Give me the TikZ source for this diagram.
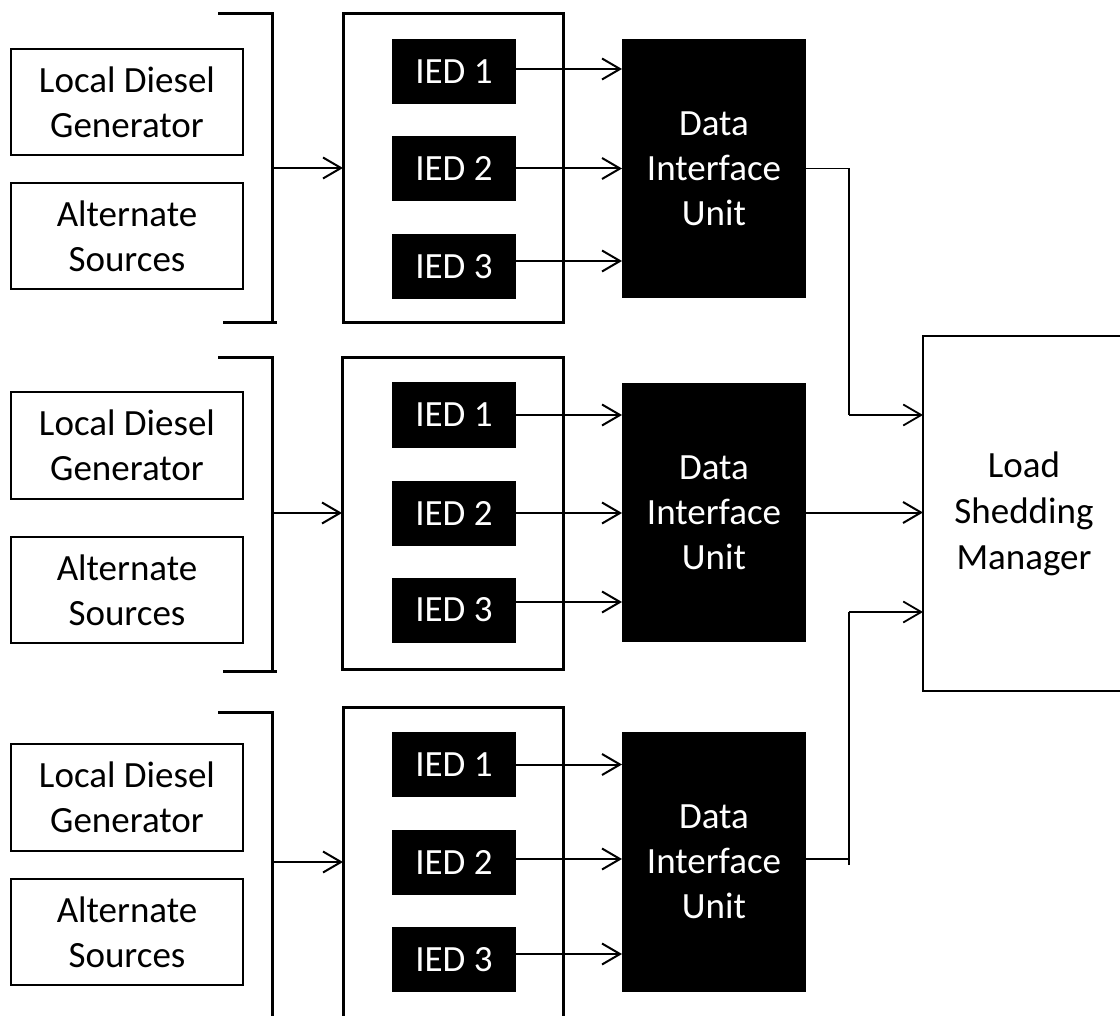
\documentclass[tikz,border=0pt]{standalone}
\usepackage{fontspec}
\setmainfont{Carlito}
\usetikzlibrary{arrows.meta}

\tikzset{
  lbl/.style={align=center, font=\fontsize{37}{45}\selectfont, inner sep=0pt, outer sep=0pt},
  srcbox/.style={lbl, draw, line width=2.3pt, minimum width=232pt, minimum height=106pt},
  iedbox/.style={lbl, fill=black, text=white, minimum width=124pt, minimum height=65pt},
  diubox/.style={lbl, fill=black, text=white, minimum width=184pt, minimum height=259pt},
  grpbox/.style={draw, line width=3pt, inner sep=0pt, outer sep=0pt},
  mgrbox/.style={lbl, draw, line width=2.3pt, minimum width=202pt, minimum height=355pt},
  brk/.style={line width=3pt},
  arr/.style={line width=2pt, -{Straight Barb[length=18pt,width=21pt]}},
  link/.style={line width=1.8pt},
}

\begin{document}
\begin{tikzpicture}[x=1pt,y=-1pt]
\useasboundingbox (0,0) rectangle (1120,1016);
\clip (0,0) rectangle (1120,1016);

% ---------- load shedding manager ----------
\node[mgrbox, font=\fontsize{37}{46}\selectfont] (lsm) at (1024,513.5) {Load\\Shedding\\Manager};

% ---------- group 1 ----------
\node[srcbox] (s1a) at (127,102) {Local Diesel\\Generator};
\node[srcbox] (s1b) at (127,236) {Alternate\\Sources};
\draw[brk] (218,14) -| (272,323);
\draw[brk] (223,323) -- (277,323);
\coordinate (b1) at (272,168);
\node[grpbox, minimum width=220pt, minimum height=309pt] (c1) at (453,168.5) {};
\node[iedbox] (i11) at (454,71.5) {IED 1};
\node[iedbox] (i12) at (454,168.5) {IED 2};
\node[iedbox] (i13) at (454,266.5) {IED 3};
\node[diubox] (d1) at (714,168.5) {Data\\Interface\\Unit};
\draw[arr] (b1) -- (b1 -| c1.west);
\draw[arr] ([yshift=2.5pt]i11.east) -- ([yshift=2.5pt]i11.east -| d1.west);
\draw[arr] (i12.east) -- (i12.east -| d1.west);
\draw[arr] ([yshift=5.5pt]i13.east) -- ([yshift=5.5pt]i13.east -| d1.west);

% ---------- group 2 ----------
\node[srcbox, minimum height=107pt] (s2a) at (127,445.5) {Local Diesel\\Generator};
\node[srcbox] (s2b) at (127,590) {Alternate\\Sources};
\draw[brk] (218,358) -| (272,671);
\draw[brk] (223,671) -- (277,671);
\coordinate (b2) at (272,513);
\node[grpbox, minimum width=221pt, minimum height=311pt] (c2) at (452.5,513.5) {};
\node[iedbox] (i21) at (454,415) {IED 1};
\node[iedbox] (i22) at (454,513) {IED 2};
\node[iedbox] (i23) at (454,610) {IED 3};
\node[diubox] (d2) at (714,512.5) {Data\\Interface\\Unit};
\draw[arr] (b2) -- (b2 -| c2.west);
\draw[arr] (i21.east) -- (i21.east -| d2.west);
\draw[arr] (i22.east) -- (i22.east -| d2.west);
\draw[arr] ([yshift=8pt]i23.east) -- ([yshift=8pt]i23.east -| d2.west);

% ---------- group 3 ----------
\node[srcbox, minimum height=107pt] (s3a) at (127,797.5) {Local Diesel\\Generator};
\node[srcbox] (s3b) at (127,932) {Alternate\\Sources};
\draw[brk] (218,712) -| (272,1030);
\coordinate (b3) at (272,862);
\node[grpbox, minimum width=220pt, minimum height=330pt] (c3) at (453,872) {};
\node[iedbox] (i31) at (454,764.5) {IED 1};
\node[iedbox] (i32) at (454,862.5) {IED 2};
\node[iedbox] (i33) at (454,959.5) {IED 3};
\node[diubox, minimum height=260pt] (d3) at (714,862) {Data\\Interface\\Unit};
\draw[arr] (b3) -- (b3 -| c3.west);
\draw[arr] (i31.east) -- (i31.east -| d3.west);
\draw[arr] ([yshift=3.5pt]i32.east) -- ([yshift=3.5pt]i32.east -| d3.west);
\draw[arr] ([yshift=5.5pt]i33.east) -- ([yshift=5.5pt]i33.east -| d3.west);

% ---------- links from the data interface units to the manager ----------
\coordinate (j1) at (849,415);
\coordinate (j3) at (849,612);
\coordinate (j3end) at (849,865);
\draw[link] (d1.east) -| (j1);
\draw[arr, line width=1.8pt] (j1) -- (j1 -| lsm.west);
\draw[arr] (d2.east) -- (d2.east -| lsm.west);
\draw[link] ([yshift=3pt]d3.east) -| (j3);
\draw[link] (j3end) -- (j3);
\draw[arr, line width=1.8pt] (j3) -- (j3 -| lsm.west);
\end{tikzpicture}
\end{document}
